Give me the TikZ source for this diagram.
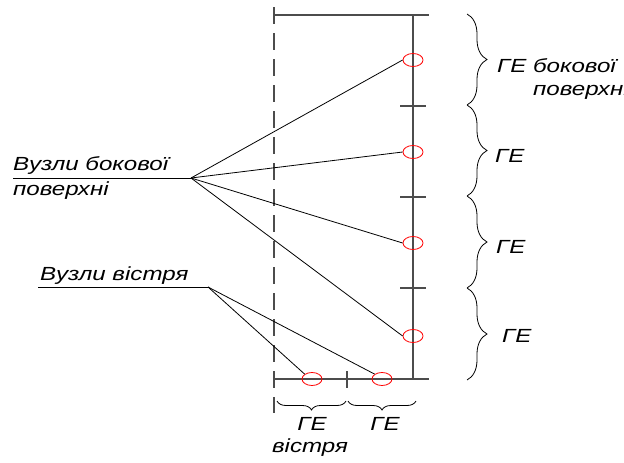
\documentclass[tikz,border=0pt]{standalone}
\usepackage{fontspec}
\setmainfont{Liberation Sans}
\usetikzlibrary{decorations.pathreplacing,shapes.geometric}
\newcommand\wtxt[1]{\scalebox{1.27}[1]{#1}}
\begin{document}
\begin{tikzpicture}[x=1pt,y=-1pt,
  frame/.style={draw=black!70, line width=1.3pt},
  fan/.style={draw=black, line width=0.8pt},
  knot/.style={ellipse, draw=red, line width=0.8pt, minimum width=20pt, minimum height=13pt, inner sep=0pt},
  lab/.style={font=\itshape\fontsize{19}{22}\selectfont, inner sep=0pt, anchor=base west},
  clab/.style={font=\itshape\fontsize{19}{22}\selectfont, inner sep=0pt, anchor=base},
  rbrace/.style={draw=black, line width=0.8pt, decorate, decoration={brace, amplitude=20pt}},
  bbrace/.style={draw=black, line width=0.8pt, decorate, decoration={brace, mirror, amplitude=9pt}}]
\useasboundingbox (0,0) rectangle (624,463);
\clip (0,0) rectangle (624,463);
% frame
\draw[frame, dash pattern=on 17pt off 9pt] (274,7) -- (274,413);
\draw[frame] (274,15) -- (429,15);
\draw[frame] (413,15) -- (413,379);
\draw[frame] (274,379) -- (429,379);
\foreach \y in {106,197,288} \draw[frame] (400,\y) -- (426,\y);
\draw[frame] (347,371) -- (347,388);
\draw[frame] (274,371) -- (274,388);
% knots
\node[knot] (s1) at (413,60) {};
\node[knot] (s2) at (413,152) {};
\node[knot] (s3) at (413,243) {};
\node[knot] (s4) at (413,336) {};
\node[knot] (t1) at (312,379) {};
\node[knot] (t2) at (382,379) {};
% left labels
\node[lab] (lb1) at (13,170) {\wtxt{Вузли бокової}};
\node[lab] (lb2) at (13,195) {\wtxt{поверхні}};
\coordinate (fs) at (191,178);
\draw[fan] (13,178) -- (fs);
\foreach \k in {s1,s2,s3,s4} \draw[fan] (fs) -- (\k.west);
\node[lab] (lt) at (40,280) {\wtxt{Вузли вістря}};
\coordinate (ft) at (208,287);
\draw[fan] (38,287) -- (ft);
\draw[fan] (ft) -- (t1.north west);
\draw[fan] (ft) -- (t2.north west);
% right braces
\draw[rbrace] (467,14) -- (467,105);
\draw[rbrace] (467,105) -- (467,196);
\draw[rbrace] (467,196) -- (467,288);
\draw[rbrace] (467,288) -- (467,380);
\node[lab] (g1) at (497,72) {\wtxt{ГЕ бокової}};
\node[lab] (g1c) at (533,95) {\wtxt{поверхні}};
\node[lab] (g2) at (495,162) {\wtxt{ГЕ}};
\node[lab] (g3) at (496,253) {\wtxt{ГЕ}};
\node[lab] (g4) at (502,342) {\wtxt{ГЕ}};
% bottom braces
\draw[bbrace] (277,401) -- (346,401);
\draw[bbrace] (348,401) -- (416,401);
\node[clab] (b1) at (312,430) {\wtxt{ГЕ}};
\node[clab] (b1b) at (310,452) {\wtxt{вістря}};
\node[clab] (b2) at (385,430) {\wtxt{ГЕ}};
\end{tikzpicture}
\end{document}
